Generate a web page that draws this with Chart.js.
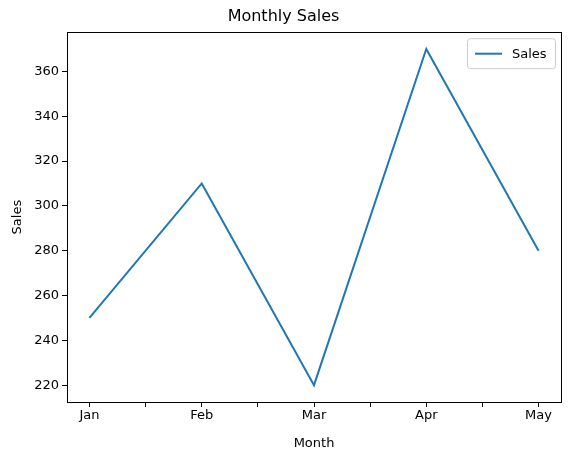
<!DOCTYPE html>
<html><head><meta charset="utf-8">
<script src="https://cdn.jsdelivr.net/npm/chart.js@4/dist/chart.umd.min.js"></script>
<style>html,body{margin:0;padding:0;background:#fff}</style>
</head><body>
<canvas id="c" width="571" height="455"></canvas>
<script>
const categories = ["Jan","Feb","Mar","Apr","May"];
const salesValues = [250, 310, 220, 370, 280];
const seriesLabel = "Sales";

const FONT = "'DejaVu Sans', sans-serif";
const framePlugin = {
  id: 'frame',
  afterDraw(chart) {
    const {ctx, chartArea: a} = chart;
    ctx.save();
    ctx.strokeStyle = '#000'; ctx.lineWidth = 1;
    ctx.strokeRect(Math.round(a.left)+0.5, Math.round(a.top)+0.5, Math.round(a.right-a.left), Math.round(a.bottom-a.top));
    const w = 88, h = 30, x = a.right - w - 6, y = a.top + 6;
    ctx.fillStyle = 'rgba(255,255,255,0.8)';
    ctx.strokeStyle = '#ccc';
    ctx.beginPath(); ctx.roundRect(x+0.5, y+0.5, w, h, 3); ctx.fill(); ctx.stroke();
    ctx.strokeStyle = '#1f77b4'; ctx.lineWidth = 2;
    ctx.beginPath(); ctx.moveTo(x+8, y+15.5); ctx.lineTo(x+35, y+15.5); ctx.stroke();
    ctx.fillStyle = '#000'; ctx.font = "13px " + FONT; ctx.textBaseline = 'middle';
    ctx.fillText(chart.data.datasets[0].label, x+45, y+16);
    ctx.restore();
  }
};

new Chart(document.getElementById('c'), {
  type: 'line',
  data: {
    datasets: [{
      label: seriesLabel,
      data: salesValues.map((v, i) => ({x: i, y: v})),
      borderColor: '#1f77b4', borderWidth: 2, pointRadius: 0, tension: 0, fill: false
    }]
  },
  options: {
    responsive: false, animation: false,
    layout: {padding: {left: 6, right: 10, top: 0, bottom: 0}},
    plugins: {
      legend: {display: false}, tooltip: {enabled: false},
      title: {display: true, text: 'Monthly Sales', color: '#000',
        font: {family: FONT, size: 16, weight: 'normal'}, padding: {top: 7, bottom: 6}}
    },
    scales: {
      x: {
        type: 'linear', min: -0.2, max: categories.length - 1 + 0.2,
        afterBuildTicks(s) { const t = []; for (let v = 0; v <= categories.length - 1 + 1e-9; v += 0.5) t.push({value: v}); s.ticks = t; },
        afterFit(s) { s.height = 53; },
        grid: {drawOnChartArea: false, color: '#000', tickLength: 5, tickColor: '#000'},
        border: {display: false},
        ticks: {color: '#000', font: {family: FONT, size: 13}, padding: 1, maxRotation: 0, autoSkip: false,
          callback: v => Number.isInteger(v) ? categories[v] : ''},
        title: {display: true, text: 'Month', color: '#000', font: {family: FONT, size: 13}, padding: {top: 0}}
      },
      y: {
        min: 212.5, max: 377.5,
        afterBuildTicks(s) { const t = []; for (let v = 220; v <= 370; v += 20) t.push({value: v}); s.ticks = t; },
        afterFit(s) { s.width = 61; },
        grid: {drawOnChartArea: false, tickLength: 5, tickColor: '#000'},
        border: {display: false},
        ticks: {color: '#000', font: {family: FONT, size: 13}, padding: 3},
        title: {display: true, text: 'Sales', color: '#000', font: {family: FONT, size: 13}, padding: {bottom: 2}}
      }
    }
  },
  plugins: [framePlugin]
});
</script>
</body></html>
